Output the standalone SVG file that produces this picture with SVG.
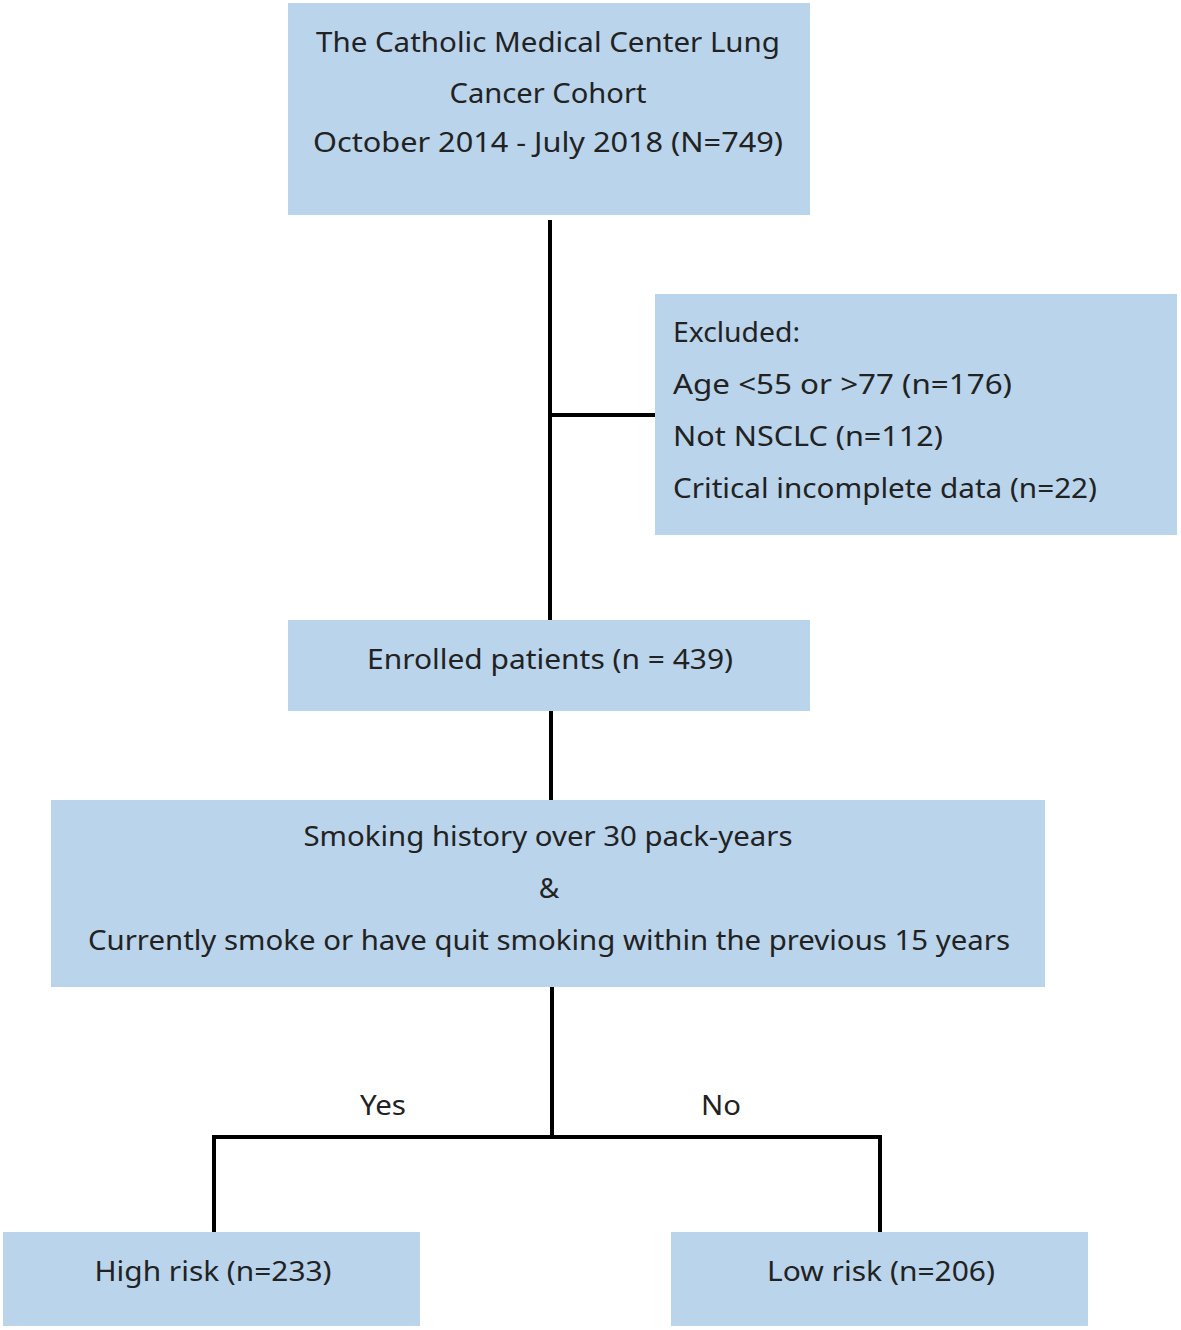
<svg xmlns="http://www.w3.org/2000/svg" width="1181" height="1330" viewBox="0 0 1181 1330">
<style>
.box{fill:#b9d4eb}
.t{font-family:"Noto Sans","Open Sans",sans-serif;font-size:28px;fill:#222}
.c{text-anchor:middle}
.ln{stroke:#000;stroke-width:4;fill:none}
</style>
<rect width="1181" height="1330" fill="#fff"/>
<g id="connectors">
<line class="ln" x1="550" y1="220" x2="550" y2="620"/>
<line class="ln" x1="550" y1="415" x2="655" y2="415"/>
<line class="ln" x1="551" y1="711" x2="551" y2="800"/>
<line class="ln" x1="552" y1="987" x2="552" y2="1139"/>
<line class="ln" x1="214" y1="1137" x2="880" y2="1137" stroke-width="5"/>
<line class="ln" x1="214" y1="1135" x2="214" y2="1232"/>
<line class="ln" x1="880" y1="1135" x2="880" y2="1232"/>
<text class="t c" x="383" y="1115" textLength="46" lengthAdjust="spacingAndGlyphs">Yes</text>
<text class="t c" x="721" y="1115" textLength="40" lengthAdjust="spacingAndGlyphs">No</text>
</g>
<g id="cohort">
<rect class="box" x="288" y="3" width="522" height="212"/>
<text class="t c" x="548" y="52" textLength="464" lengthAdjust="spacingAndGlyphs">The Catholic Medical Center Lung</text>
<text class="t c" x="548" y="103" textLength="197" lengthAdjust="spacingAndGlyphs">Cancer Cohort</text>
<text class="t c" x="548" y="152" textLength="470" lengthAdjust="spacingAndGlyphs">October 2014 - July 2018 (N=749)</text>
</g>
<g id="excluded">
<rect class="box" x="655" y="294" width="522" height="241"/>
<text class="t" x="673" y="342" textLength="127" lengthAdjust="spacingAndGlyphs">Excluded:</text>
<text class="t" x="673" y="394" textLength="339" lengthAdjust="spacingAndGlyphs">Age &lt;55 or &gt;77 (n=176)</text>
<text class="t" x="673" y="446" textLength="270" lengthAdjust="spacingAndGlyphs">Not NSCLC (n=112)</text>
<text class="t" x="673" y="498" textLength="424" lengthAdjust="spacingAndGlyphs">Critical incomplete data (n=22)</text>
</g>
<g id="enrolled">
<rect class="box" x="288" y="620" width="522" height="91"/>
<text class="t c" x="550" y="669" textLength="366" lengthAdjust="spacingAndGlyphs">Enrolled patients (n = 439)</text>
</g>
<g id="smoking">
<rect class="box" x="51" y="800" width="994" height="187"/>
<text class="t c" x="548" y="846" textLength="489" lengthAdjust="spacingAndGlyphs">Smoking history over 30 pack-years</text>
<text class="t c" x="549" y="898">&amp;</text>
<text class="t c" x="549" y="950" textLength="922" lengthAdjust="spacingAndGlyphs">Currently smoke or have quit smoking within the previous 15 years</text>
</g>
<g id="high">
<rect class="box" x="3" y="1232" width="417" height="94"/>
<text class="t c" x="213" y="1281" textLength="237" lengthAdjust="spacingAndGlyphs">High risk (n=233)</text>
</g>
<g id="low">
<rect class="box" x="671" y="1232" width="417" height="94"/>
<text class="t c" x="881" y="1281" textLength="228" lengthAdjust="spacingAndGlyphs">Low risk (n=206)</text>
</g>
</svg>
